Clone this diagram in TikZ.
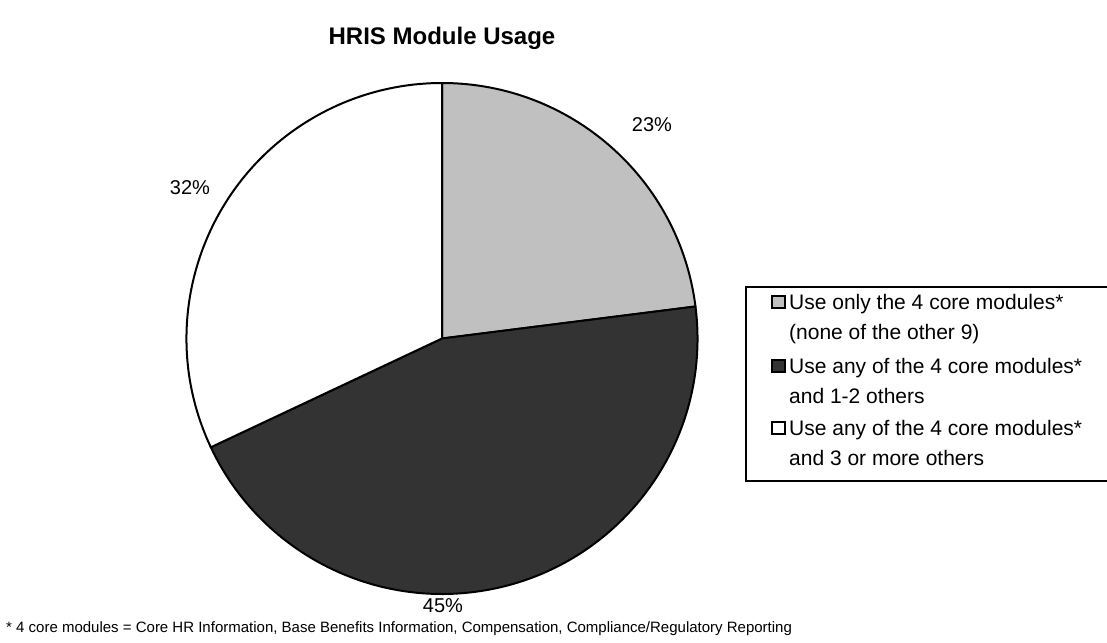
\documentclass[tikz,border=0pt]{standalone}
\usepackage{fontspec}
\setmainfont{Liberation Sans}
\definecolor{sliceLight}{HTML}{C0C0C0}
\definecolor{sliceDark}{HTML}{333333}
\begin{document}
\begin{tikzpicture}[x=1pt,y=-1pt,
  slice/.style={draw=black,line width=2pt,line join=round},
  pctlabel/.style={font=\fontsize{20}{24}\selectfont,inner sep=0pt},
  legtext/.style={font=\fontsize{21}{25}\selectfont,anchor=base west,inner sep=0pt},
  legkey/.style={draw=black,line width=1.6pt,minimum size=12.5pt,inner sep=0pt},
]
\useasboundingbox (0,0) rectangle (1107,642);
\fill[white] (0,0) rectangle (1107,642);

% title
\node[font=\bfseries\fontsize{24}{28}\selectfont] (title) at (442,38.5) {HRIS Module Usage};

% pie (centre and radius in px)
\coordinate (c) at (442,338.5);
\def\r{255.5}
\path[slice,fill=sliceLight] (c) -- ++(-90:\r) arc[start angle=-90,end angle=-7.2,radius=\r] -- cycle;
\path[slice,fill=sliceDark] (c) -- ++(-7.2:\r) arc[start angle=-7.2,end angle=154.8,radius=\r] -- cycle;
\path[slice,fill=white] (c) -- ++(154.8:\r) arc[start angle=154.8,end angle=270,radius=\r] -- cycle;

% percentages
\node[pctlabel] (p23) at (652,125) {23\%};
\node[pctlabel] (p32) at (190,188) {32\%};
\node[pctlabel] (p45) at (443,606) {45\%};

% legend frame (runs off the right edge)
\draw[line width=2pt] (1110,287) -- (746,287) -- (746,481) -- (1110,481);

\node[legkey,fill=sliceLight] (k1) at (778.5,302) {};
\node[legtext] (l1a) at (789,309) {Use only the 4 core modules*};
\node[legtext] (l1b) at (789,339) {(none of the other 9)};

\node[legkey,fill=sliceDark] (k2) at (778.5,366) {};
\node[legtext] (l2a) at (789,373) {Use any of the 4 core modules*};
\node[legtext] (l2b) at (789,403) {and 1-2 others};

\node[legkey,fill=white] (k3) at (778.5,428) {};
\node[legtext] (l3a) at (789,435) {Use any of the 4 core modules*};
\node[legtext] (l3b) at (789,465) {and 3 or more others};

% footnote
\node[font=\fontsize{15}{18}\selectfont,anchor=base west,inner sep=0pt] (note) at (6,632)
  {* 4 core modules = Core HR Information, Base Benefits Information, Compensation, Compliance/Regulatory Reporting};
\end{tikzpicture}
\end{document}
